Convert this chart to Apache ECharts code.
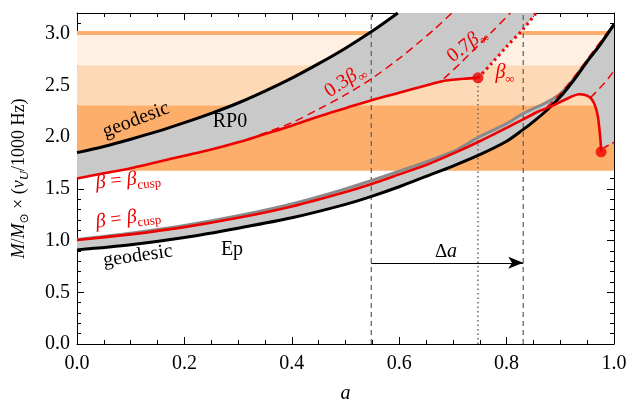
<!DOCTYPE html>
<html><head><meta charset="utf-8">
<script src="https://cdn.jsdelivr.net/npm/echarts@6/dist/echarts.min.js"></script>
<style>html,body{margin:0;padding:0;background:#fff}#c{width:636px;height:403px}</style>
</head><body><div id="c"></div>
<script>
// ---------- data ----------
const xRange = [0, 1];
const yRange = [0, 3.2];
const bandEdges = [[1.674, 2.309], [2.309, 2.696], [2.696, 2.988], [2.988, 3.027]];

// RP0 model
const rp0Geodesic = [[0,1.85],[0.05,1.91],[0.1,1.98],[0.15,2.055],[0.2,2.14],[0.25,2.23],[0.3,2.33],[0.35,2.445],[0.4,2.57],[0.45,2.71],[0.5,2.86],[0.55,3.025],[0.5975,3.2]];
const rp0Cusp = [[0,1.60],[0.05,1.65],[0.1,1.70],[0.15,1.76],[0.2,1.82],[0.25,1.88],[0.3,1.95],[0.35,2.03],[0.4,2.11],[0.45,2.20],[0.5,2.28],[0.55,2.36],[0.6,2.43],[0.65,2.50],[0.68,2.54],[0.7,2.555],[0.72,2.565],[0.7466,2.573]];
const rp0BetaInf = [[0.7466,2.573],[0.77,2.70],[0.8,2.875],[0.832,3.05],[0.855,3.2]];
const rp0Beta03 = [[0.34,2.02],[0.4,2.14],[0.45,2.27],[0.5,2.41],[0.55,2.57],[0.6,2.76],[0.633,2.90],[0.665,3.04],[0.698,3.2]];
const rp0Beta07 = [[0.683,2.565],[0.715,2.72],[0.745,2.875],[0.775,3.03],[0.807,3.2]];

// Ep model
const epGeodesic = [[0,0.91],[0.1,0.96],[0.2,1.03],[0.3,1.12],[0.4,1.22],[0.5,1.35],[0.55,1.43],[0.6,1.52],[0.65,1.62],[0.7,1.72],[0.75,1.83],[0.8,1.96],[0.83,2.07],[0.85,2.15],[0.875,2.26],[0.9,2.39],[0.925,2.55],[0.95,2.73],[0.975,2.9],[1.0,3.09]];
const epCusp = [[0,1.005],[0.1,1.06],[0.2,1.13],[0.3,1.22],[0.4,1.33],[0.5,1.47],[0.55,1.55],[0.6,1.64],[0.65,1.73],[0.7,1.84],[0.75,1.96],[0.8,2.09],[0.83,2.17],[0.86,2.25],[0.875,2.28],[0.9,2.34],[0.92,2.39],[0.934,2.415],[0.948,2.405],[0.958,2.37],[0.965,2.30],[0.97,2.20],[0.973,2.07],[0.975,1.96],[0.976,1.86]];
const epUpper = [[0,1.01],[0.1,1.07],[0.2,1.145],[0.3,1.24],[0.4,1.355],[0.5,1.50],[0.6,1.67],[0.7,1.86],[0.75,2.005],[0.8,2.13],[0.83,2.225],[0.86,2.30],[0.88,2.35],[0.9,2.42],[0.92,2.53],[0.943,2.69],[0.97,2.87],[1.0,3.09]];
const epBetaInf = [[0.875,2.29],[0.9,2.42],[0.93,2.61],[0.96,2.82],[0.99,3.03]];
const epBetaMid = [[0.956,2.38],[0.98,2.51],[1.0,2.64]];
const epBetaLow = [[0.982,1.90],[1.0,1.95]];
const epRightEdge = [[1.0,3.09],[1.0,1.95],[0.982,1.90]];

const endDots = [[0.7466,2.573],[0.976,1.858]];
const vDashed = [0.548, 0.831];
const vDotted = [0.7466, 2.573];
const deltaArrow = [[0.548,0.785],[0.831,0.785]];

// ---------- derived polygons ----------
const rp0Poly = rp0Geodesic.concat(rp0BetaInf.slice().reverse(), rp0Cusp.slice().reverse());
const epPoly = epUpper.concat(epRightEdge,
  epCusp.filter(p => p[0] >= 0.875).reverse(),
  epGeodesic.filter(p => p[0] <= 0.875).reverse());

// ---------- styles ----------
const RED = '#ee0000';
const SERIF = 'Liberation Serif';
const bandColors = ['#FDAE6B', '#FDD9B5', '#FEF0E3', '#FDAE6B'];

function poly(pts, color, z) {
  return { type: 'custom', coordinateSystem: 'cartesian2d', z, silent: true, animation: false,
    data: [pts[0]],
    renderItem: (params, api) => ({ type: 'polygon', shape: { points: pts.map(p => api.coord(p)), smooth: 0 }, style: { fill: color } }) };
}
function line(pts, color, width, type, z, smooth) {
  return { type: 'line', data: pts, showSymbol: false, symbol: 'none', z, silent: true, animation: false,
    smooth: smooth || false,
    lineStyle: { color, width, type, cap: 'butt', join: 'round' } };
}

const axisCommon = {
  type: 'value', axisLine: { show: true, onZero: false, lineStyle: { color: '#000', width: 1 } },
  splitLine: { show: false },
  axisTick: { show: true, inside: true, length: 7, lineStyle: { color: '#000' } },
  minorTick: { show: true, length: 4, lineStyle: { color: '#000' } },
};

const sub = { fontSize: 13, fontFamily: SERIF, verticalAlign: 'bottom', lineHeight: 14 };
function txt(x, y, rot, text, color, rich) {
  return { type: 'text', x, y, rotation: rot * Math.PI / 180, z: 100, silent: true,
    style: { text, fill: color, fontSize: 20, fontFamily: SERIF, align: 'center', verticalAlign: 'middle', rich: rich || {} } };
}
const richBeta = {
  b: { fontSize: 20, fontFamily: SERIF, fontStyle: 'italic', lineHeight: 26 },
  n: { fontSize: 20, fontFamily: SERIF, lineHeight: 26 },
  s: sub
};

const option = {
  animation: false,
  backgroundColor: '#fff',
  textStyle: { fontFamily: SERIF },
  grid: { left: 77, right: 22, top: 13, bottom: 59, containLabel: false, outerBoundsMode: 'none' },
  xAxis: [
    Object.assign({}, axisCommon, { min: xRange[0], max: xRange[1], interval: 0.2, position: 'bottom',
      minorTick: Object.assign({}, axisCommon.minorTick, { splitNumber: 4 }),
      axisLabel: { color: '#000', fontFamily: SERIF, fontSize: 20, margin: 10, formatter: v => v.toFixed(1) },
      name: 'a', nameLocation: 'middle', nameGap: 40,
      nameTextStyle: { color: '#000', fontFamily: SERIF, fontSize: 20, fontStyle: 'italic' } }),
    Object.assign({}, axisCommon, { min: xRange[0], max: xRange[1], interval: 0.2, position: 'top',
      minorTick: Object.assign({}, axisCommon.minorTick, { splitNumber: 4 }),
      axisLabel: { show: false } })
  ],
  yAxis: [
    Object.assign({}, axisCommon, { min: yRange[0], max: yRange[1], interval: 0.5, position: 'left',
      minorTick: Object.assign({}, axisCommon.minorTick, { splitNumber: 5 }),
      axisLabel: { color: '#000', fontFamily: SERIF, fontSize: 20, margin: 7, showMaxLabel: false, formatter: v => v.toFixed(1) },
      name: '{i|M}{n|/}{i|M}{s|⊙}{n| × (}{i|ν}{si|U}{n|/1000 Hz)}', nameLocation: 'middle', nameGap: 46, nameRotate: 90,
      nameTextStyle: { color: '#000', fontFamily: SERIF, fontSize: 18,
        rich: {
          i: { fontSize: 18, fontFamily: SERIF, fontStyle: 'italic', lineHeight: 24, color: '#000' },
          n: { fontSize: 18, fontFamily: SERIF, lineHeight: 24, color: '#000' },
          s: { fontSize: 12, fontFamily: 'DejaVu Sans', verticalAlign: 'bottom', lineHeight: 13, color: '#000' },
          si: { fontSize: 13, fontFamily: SERIF, fontStyle: 'italic', verticalAlign: 'bottom', lineHeight: 13, color: '#000' }
        } } }),
    Object.assign({}, axisCommon, { min: yRange[0], max: yRange[1], interval: 0.5, position: 'right',
      minorTick: Object.assign({}, axisCommon.minorTick, { splitNumber: 5 }),
      axisLabel: { show: false } })
  ],
  series: [
    { type: 'line', data: [[0, 0]], showSymbol: false, lineStyle: { opacity: 0 }, z: 1, silent: true,
      markArea: { silent: true, data: bandEdges.map((b, i) => [{ yAxis: b[0], itemStyle: { color: bandColors[i] } }, { yAxis: b[1] }]) } },
    poly(rp0Poly, '#c9c9c9', 2),
    poly(epPoly, '#c9c9c9', 2),
    line([[vDashed[0], yRange[0]], [vDashed[0], yRange[1]]], '#666', 1.3, [5, 4], 3),
    line([[vDashed[1], yRange[0]], [vDashed[1], yRange[1]]], '#666', 1.3, [5, 4], 3),
    line([[vDotted[0], yRange[0]], [vDotted[0], vDotted[1]]], '#666', 1.5, [1.5, 3], 3),
    line(epUpper, '#8a8a8a', 3, 'solid', 4, 0.3),
    line(rp0Beta03, RED, 1.5, [8, 5], 5, 0.3),
    line(rp0Beta07, RED, 1.5, [8, 5], 5, 0.3),
    line(epBetaInf, RED, 1.5, [8, 5], 5, 0.3),
    line(epBetaMid, RED, 1.5, [8, 5], 5, 0.3),
    line(epBetaLow, RED, 1.5, [5, 4], 5),
    line(rp0BetaInf, RED, 3, [2.5, 3.5], 5, 0.3),
    line(rp0Geodesic, '#000', 3, 'solid', 6, 0.3),
    line(epGeodesic, '#000', 3, 'solid', 6, 0.3),
    line(rp0Cusp, RED, 2.6, 'solid', 7, 0.3),
    line(epCusp, RED, 2.6, 'solid', 7, 0.2),
    { type: 'scatter', data: endDots, symbolSize: 11, itemStyle: { color: RED }, z: 8, silent: true },
    { type: 'line', data: [], z: 8, silent: true,
      markLine: { silent: true, symbol: ['none', 'arrow'], symbolSize: [9, 15], label: { show: false },
        lineStyle: { color: '#000', width: 1.2, type: 'solid' },
        data: [[{ coord: deltaArrow[0] }, { coord: deltaArrow[1] }]] } }
  ],
  graphic: [
    txt(136, 120, 21, 'geodesic', '#000'),
    txt(230, 122, 0, 'RP0', '#000'),
    txt(128, 180, 6, '{b|β}{n| = }{b|β}{s|cusp}', RED, richBeta),
    txt(128, 218, 8, '{b|β}{n| = }{b|β}{s|cusp}', RED, richBeta),
    txt(138, 256, 8, 'geodesic', '#000'),
    txt(232, 250, 0, 'Ep', '#000'),
    txt(345, 81, 34, '{n|0.3}{b|β}{s|∞}', RED, richBeta),
    txt(467, 45, 38, '{n|0.7}{b|β}{s|∞}', RED, richBeta),
    txt(505, 73, 0, '{b|β}{s|∞}', RED, richBeta),
    txt(446, 252, 0, '{n|Δ}{b|a}', '#000', { n: { fontSize: 19, fontFamily: SERIF }, b: { fontSize: 20, fontFamily: SERIF, fontStyle: 'italic' } })
  ]
};

const chart = echarts.init(document.getElementById('c'), null, { renderer: 'canvas' });
chart.setOption(option);
</script></body></html>
